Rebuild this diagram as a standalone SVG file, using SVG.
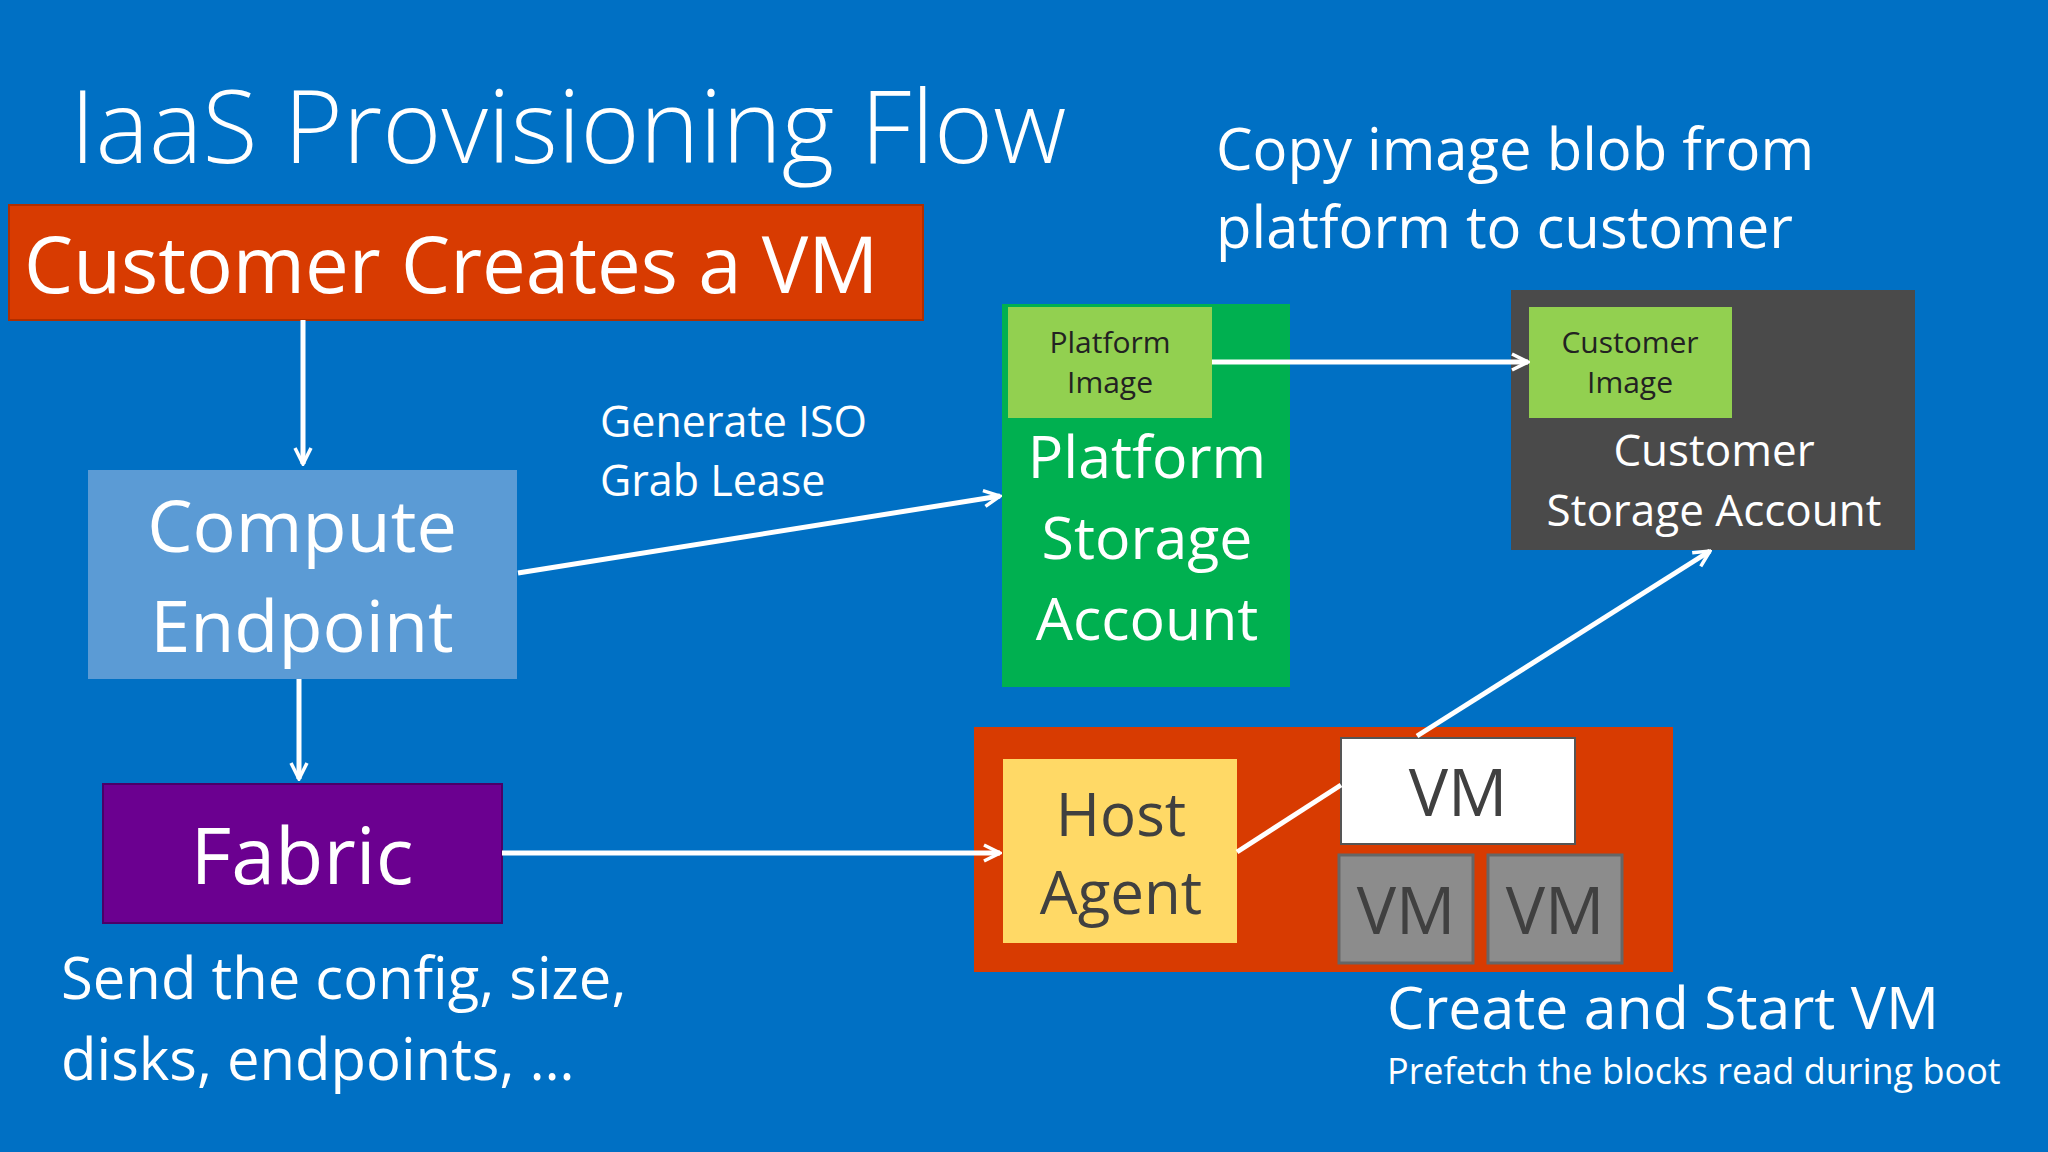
<svg xmlns="http://www.w3.org/2000/svg" width="2048" height="1152" viewBox="0 0 2048 1152">
<defs>
<marker id="ah" viewBox="0 0 20 20" refX="18" refY="10" markerWidth="20" markerHeight="20" markerUnits="userSpaceOnUse" orient="auto">
<path d="M2,2 L18,10 L2,18" fill="none" stroke="#fff" stroke-width="3.5"/>
</marker>
</defs>
<style>
text{font-family:"Open Sans","Noto Sans","Liberation Sans",sans-serif;fill:#fff}
.c{text-anchor:middle}
.d{fill:#404040}
.ln{stroke:#fff;stroke-width:5;fill:none}
</style>
<rect width="2048" height="1152" fill="#0070C4"/>
<text x="70" y="163" font-size="101" font-weight="300">IaaS Provisioning Flow</text>
<text x="1216" y="170" font-size="58">Copy image blob from</text>
<text x="1216" y="248" font-size="58">platform to customer</text>
<g id="customer">
<rect x="9" y="205" width="914" height="115" fill="#D83B01" stroke="#B02E00" stroke-width="2"/>
<text x="24" y="293" font-size="78">Customer Creates a VM</text>
</g>
<g id="compute">
<rect x="88" y="470" width="429" height="209" fill="#5B9BD5"/>
<text class="c" x="302" y="552" font-size="72">Compute</text>
<text class="c" x="302" y="652" font-size="72">Endpoint</text>
</g>
<g id="fabric">
<rect x="103" y="784" width="399" height="139" fill="#6B0090" stroke="#4b0068" stroke-width="2"/>
<text class="c" x="302" y="884" font-size="79">Fabric</text>
</g>
<text x="600" y="437" font-size="43">Generate ISO</text>
<text x="600" y="496" font-size="43">Grab Lease</text>
<g id="platform">
<rect x="1002" y="304" width="288" height="383" fill="#00B050"/>
<rect x="1008" y="307" width="204" height="111" fill="#92D050"/>
<text class="c" x="1110" y="353" font-size="30" style="fill:#222">Platform</text>
<text class="c" x="1110" y="393" font-size="30" style="fill:#222">Image</text>
<text class="c" x="1147" y="478" font-size="59">Platform</text>
<text class="c" x="1147" y="559" font-size="59">Storage</text>
<text class="c" x="1147" y="640" font-size="59">Account</text>
</g>
<g id="custstorage">
<rect x="1511" y="290" width="404" height="260" fill="#4A4A4A"/>
<rect x="1529" y="307" width="203" height="111" fill="#92D050"/>
<text class="c" x="1630" y="353" font-size="30" style="fill:#222">Customer</text>
<text class="c" x="1630" y="393" font-size="30" style="fill:#222">Image</text>
<text class="c" x="1714" y="466" font-size="44">Customer</text>
<text class="c" x="1714" y="526" font-size="44">Storage Account</text>
</g>
<g id="host">
<rect x="974" y="727" width="699" height="245" fill="#D83B01"/>
<rect x="1003" y="759" width="234" height="184" fill="#FFD966"/>
<text class="c d" x="1121" y="836" font-size="60">Host</text>
<text class="c d" x="1121" y="914" font-size="60">Agent</text>
</g>
<g id="vm1">
<rect x="1341" y="738" width="234" height="106" fill="#fff" stroke="#555" stroke-width="2"/>
<text class="c d" x="1458" y="816" font-size="66">VM</text>
</g>
<g id="vm2">
<rect x="1339" y="855" width="134" height="108" fill="#8C8C8C" stroke="#666" stroke-width="3"/>
<text class="c d" x="1406" y="934" font-size="66">VM</text>
</g>
<g id="vm3">
<rect x="1488" y="855" width="134" height="108" fill="#8C8C8C" stroke="#666" stroke-width="3"/>
<text class="c d" x="1555" y="934" font-size="66">VM</text>
</g>
<g id="connectors">
<line class="ln" x1="303" y1="320" x2="303" y2="464" marker-end="url(#ah)"/>
<line class="ln" x1="299" y1="679" x2="299" y2="779" marker-end="url(#ah)"/>
<line class="ln" x1="518" y1="573" x2="1000" y2="496" marker-end="url(#ah)"/>
<line class="ln" x1="1212" y1="362" x2="1528" y2="362" marker-end="url(#ah)"/>
<line class="ln" x1="502" y1="853" x2="1000" y2="853" marker-end="url(#ah)"/>
<line class="ln" x1="1237" y1="852" x2="1341" y2="785"/>
<line class="ln" x1="1417" y1="736" x2="1710" y2="551" marker-end="url(#ah)"/>
</g>
<text x="61" y="999" font-size="58">Send the config, size,</text>
<text x="61" y="1080" font-size="58">disks, endpoints, …</text>
<text x="1387" y="1029" font-size="59">Create and Start VM</text>
<text x="1387" y="1084" font-size="36">Prefetch the blocks read during boot</text>
</svg>
